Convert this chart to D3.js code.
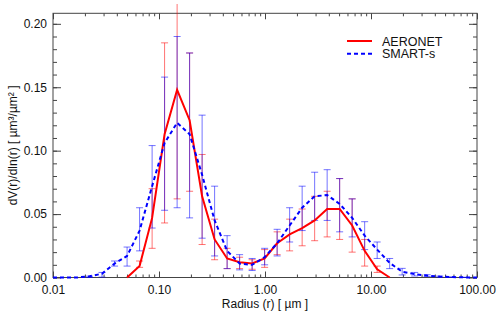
<!DOCTYPE html>
<html>
<head>
<meta charset="utf-8">
<script src="https://cdn.jsdelivr.net/npm/d3@7"></script>
<style>
  body { margin: 0; background: #fff; }
  text { font-family: "Liberation Sans", Arial, sans-serif; fill: #111; }
</style>
</head>
<body>
<svg id="chart" width="500" height="315"></svg>
<script>
// AERONET inversion radii (um) and volume size distribution
var aeroR = [0.05, 0.0656, 0.0861, 0.1129, 0.1482, 0.1944, 0.2551, 0.3347, 0.4392, 0.5762, 0.7561,
             0.9920, 1.3016, 1.7078, 2.2407, 2.9400, 3.8575, 5.0613, 6.6407, 8.7131, 11.4323, 15.0];
var aeroV = [0.000, 0.009, 0.047, 0.113, 0.148, 0.124, 0.064, 0.030, 0.015, 0.012, 0.011,
             0.015, 0.027, 0.034, 0.039, 0.045, 0.054, 0.054, 0.041, 0.021, 0.0065, 0.000];
var aeroLo = [0.000, 0.008, 0.023, 0.043, 0.062, 0.068, 0.026, 0.014, 0.007, 0.007, 0.0065,
              0.008, 0.018, 0.021, 0.025, 0.029, 0.032, 0.030, 0.020, 0.009, 0.004, 0.000];
var aeroHi = [0.000, 0.013, 0.070, 0.185, 0.234, 0.177, 0.097, 0.046, 0.023, 0.016, 0.014,
              0.022, 0.036, 0.046, 0.054, 0.064, 0.068, 0.078, 0.062, 0.030, 0.009, 0.000];

// SMART-s retrieval, same bins extended on both sides
var smartR = [0.01, 0.0129, 0.0169, 0.0221, 0.0290, 0.0381,
              0.05, 0.0656, 0.0861, 0.1129, 0.1482, 0.1944, 0.2551, 0.3347, 0.4392, 0.5762, 0.7561,
              0.9920, 1.3016, 1.7078, 2.2407, 2.9400, 3.8575, 5.0613, 6.6407, 8.7131, 11.4323, 15.0,
              19.68, 25.83, 33.89, 44.47, 58.35, 76.56, 100.0];
var smartV = [0, 0, 0, 0.001, 0.003, 0.011,
              0.017, 0.037, 0.072, 0.106, 0.122, 0.113, 0.081, 0.045, 0.021, 0.011, 0.010,
              0.016, 0.027, 0.041, 0.055, 0.064, 0.065, 0.058, 0.047, 0.033, 0.022, 0.0115,
              0.0046, 0.0026, 0.0015, 0.0007, 0.0003, 0.0001, 0];
var smartLo = [0, 0, 0, 0, 0.0003, 0.009,
               0.009, 0.021, 0.039, 0.053, 0.055, 0.047, 0.031, 0.017, 0.007, 0.006, 0.0055,
               0.010, 0.017, 0.028, 0.037, 0.045, 0.045, 0.036, 0.032, 0.022, 0.015, 0.007,
               0.002, 0.0012, 0.0008, 0.0003, 0.0001, 0, 0];
var smartHi = [0, 0, 0, 0.001, 0.004, 0.013,
               0.024, 0.055, 0.104, 0.158, 0.190, 0.177, 0.128, 0.072, 0.033, 0.018, 0.015,
               0.023, 0.038, 0.055, 0.072, 0.083, 0.085, 0.078, 0.062, 0.044, 0.028, 0.015,
               0.0072, 0.004, 0.0022, 0.0011, 0.0005, 0.0002, 0];

var xMajor = [0.01, 0.1, 1, 10, 100];
var yMajor = [0, 0.05, 0.10, 0.15, 0.20];
var seriesNames = ["AERONET", "SMART-s"];

var svg = d3.select("#chart");
var mLeft = 53, mRight = 477, mTop = 13.3, mBottom = 277.5;

var x = d3.scaleLog().domain([0.01, 100]).range([mLeft, mRight]);
var y = d3.scaleLinear().domain([0, 0.2083]).range([mBottom, mTop]);

var xMinor = [];
xMajor.slice(0, -1).forEach(function(d) {
    for (var k = 2; k <= 9; k++) xMinor.push(d * k);
});
var yMinor = d3.range(0, 0.2081, 0.01);

var axisColor = "#444";

function styleAxis(g) {
    g.select(".domain").remove();
    g.selectAll("line").attr("stroke", axisColor);
    g.selectAll("text").style("font-size", "12px").attr("fill", "#111");
}

// x axes
svg.append("g").attr("transform", "translate(0," + mBottom + ")")
    .call(d3.axisBottom(x).tickValues(xMinor).tickSize(-3).tickFormat(""))
    .call(styleAxis);
svg.append("g").attr("transform", "translate(0," + mBottom + ")")
    .call(d3.axisBottom(x).tickValues(xMajor).tickSize(-6).tickPadding(8).tickFormat(d3.format(".2f")))
    .call(styleAxis);
svg.append("g").attr("transform", "translate(0," + mTop + ")")
    .call(d3.axisTop(x).tickValues(xMinor).tickSize(-3).tickFormat(""))
    .call(styleAxis);
svg.append("g").attr("transform", "translate(0," + mTop + ")")
    .call(d3.axisTop(x).tickValues(xMajor).tickSize(-6).tickFormat(""))
    .call(styleAxis);

// y axes
svg.append("g").attr("transform", "translate(" + mLeft + ",0)")
    .call(d3.axisLeft(y).tickValues(yMinor).tickSize(-4).tickFormat(""))
    .call(styleAxis);
svg.append("g").attr("transform", "translate(" + mLeft + ",0)")
    .call(d3.axisLeft(y).tickValues(yMajor).tickSize(-8).tickPadding(6).tickFormat(d3.format(".2f")))
    .call(styleAxis);
svg.append("g").attr("transform", "translate(" + mRight + ",0)")
    .call(d3.axisRight(y).tickValues(yMinor).tickSize(-4).tickFormat(""))
    .call(styleAxis);
svg.append("g").attr("transform", "translate(" + mRight + ",0)")
    .call(d3.axisRight(y).tickValues(yMajor).tickSize(-8).tickFormat(""))
    .call(styleAxis);

svg.append("rect")
    .attr("x", mLeft).attr("y", mTop)
    .attr("width", mRight - mLeft).attr("height", mBottom - mTop)
    .attr("fill", "none").attr("stroke", axisColor).attr("stroke-width", 1);

// error bars may run a little above the frame, not past the page
svg.append("clipPath").attr("id", "errClip")
  .append("rect").attr("x", 0).attr("y", 4).attr("width", 500).attr("height", 300);

function errorBars(rs, lo, hi, color) {
    var data = rs.map(function(r, i) { return { r: r, lo: lo[i], hi: hi[i] }; })
        .filter(function(d) { return d.hi > d.lo; });
    var g = svg.append("g")
        .attr("clip-path", "url(#errClip)")
        .attr("stroke", color).attr("stroke-width", 1).attr("stroke-opacity", 0.55);
    var bar = g.selectAll("g").data(data).enter().append("g");
    bar.append("line")
        .attr("x1", function(d) { return x(d.r); }).attr("x2", function(d) { return x(d.r); })
        .attr("y1", function(d) { return y(d.lo); }).attr("y2", function(d) { return y(d.hi); });
    ["lo", "hi"].forEach(function(k) {
        bar.append("line")
            .attr("x1", function(d) { return x(d.r) - 3.5; }).attr("x2", function(d) { return x(d.r) + 3.5; })
            .attr("y1", function(d) { return y(d[k]); }).attr("y2", function(d) { return y(d[k]); });
    });
}

errorBars(aeroR, aeroLo, aeroHi, "#ff0000");
errorBars(smartR, smartLo, smartHi, "#0000ff");

var line = d3.line()
    .x(function(d) { return x(d[0]); })
    .y(function(d) { return y(d[1]); });

svg.append("path")
    .datum(d3.zip(aeroR, aeroV))
    .attr("d", line)
    .attr("fill", "none").attr("stroke", "#ff0000").attr("stroke-width", 2);

svg.append("path")
    .datum(d3.zip(smartR, smartV))
    .attr("d", line)
    .attr("fill", "none").attr("stroke", "#0000ff").attr("stroke-width", 2)
    .attr("stroke-dasharray", "4,3");

// legend
var legend = svg.append("g").attr("transform", "translate(347,41)");
seriesNames.forEach(function(name, i) {
    var row = legend.append("g").attr("transform", "translate(0," + (i * 12.7) + ")");
    row.append("line")
        .attr("x1", 0).attr("x2", 25).attr("y1", 0).attr("y2", 0)
        .attr("stroke", i == 0 ? "#ff0000" : "#0000ff").attr("stroke-width", 2)
        .attr("stroke-dasharray", i == 0 ? null : "4,3");
    row.append("text")
        .attr("x", 35).attr("dy", "0.36em")
        .style("font-size", "12.5px")
        .text(name);
});

// axis titles
svg.append("text")
    .attr("x", (mLeft + mRight) / 2).attr("y", 308)
    .attr("text-anchor", "middle")
    .style("font-size", "12px")
    .text("Radius (r) [ µm ]");

svg.append("text")
    .attr("transform", "translate(17," + ((mTop + mBottom) / 2) + ") rotate(-90)")
    .attr("text-anchor", "middle")
    .style("font-size", "12px")
    .text("dV(r)/dln(r) [ µm³/µm² ]");
</script>
</body>
</html>
